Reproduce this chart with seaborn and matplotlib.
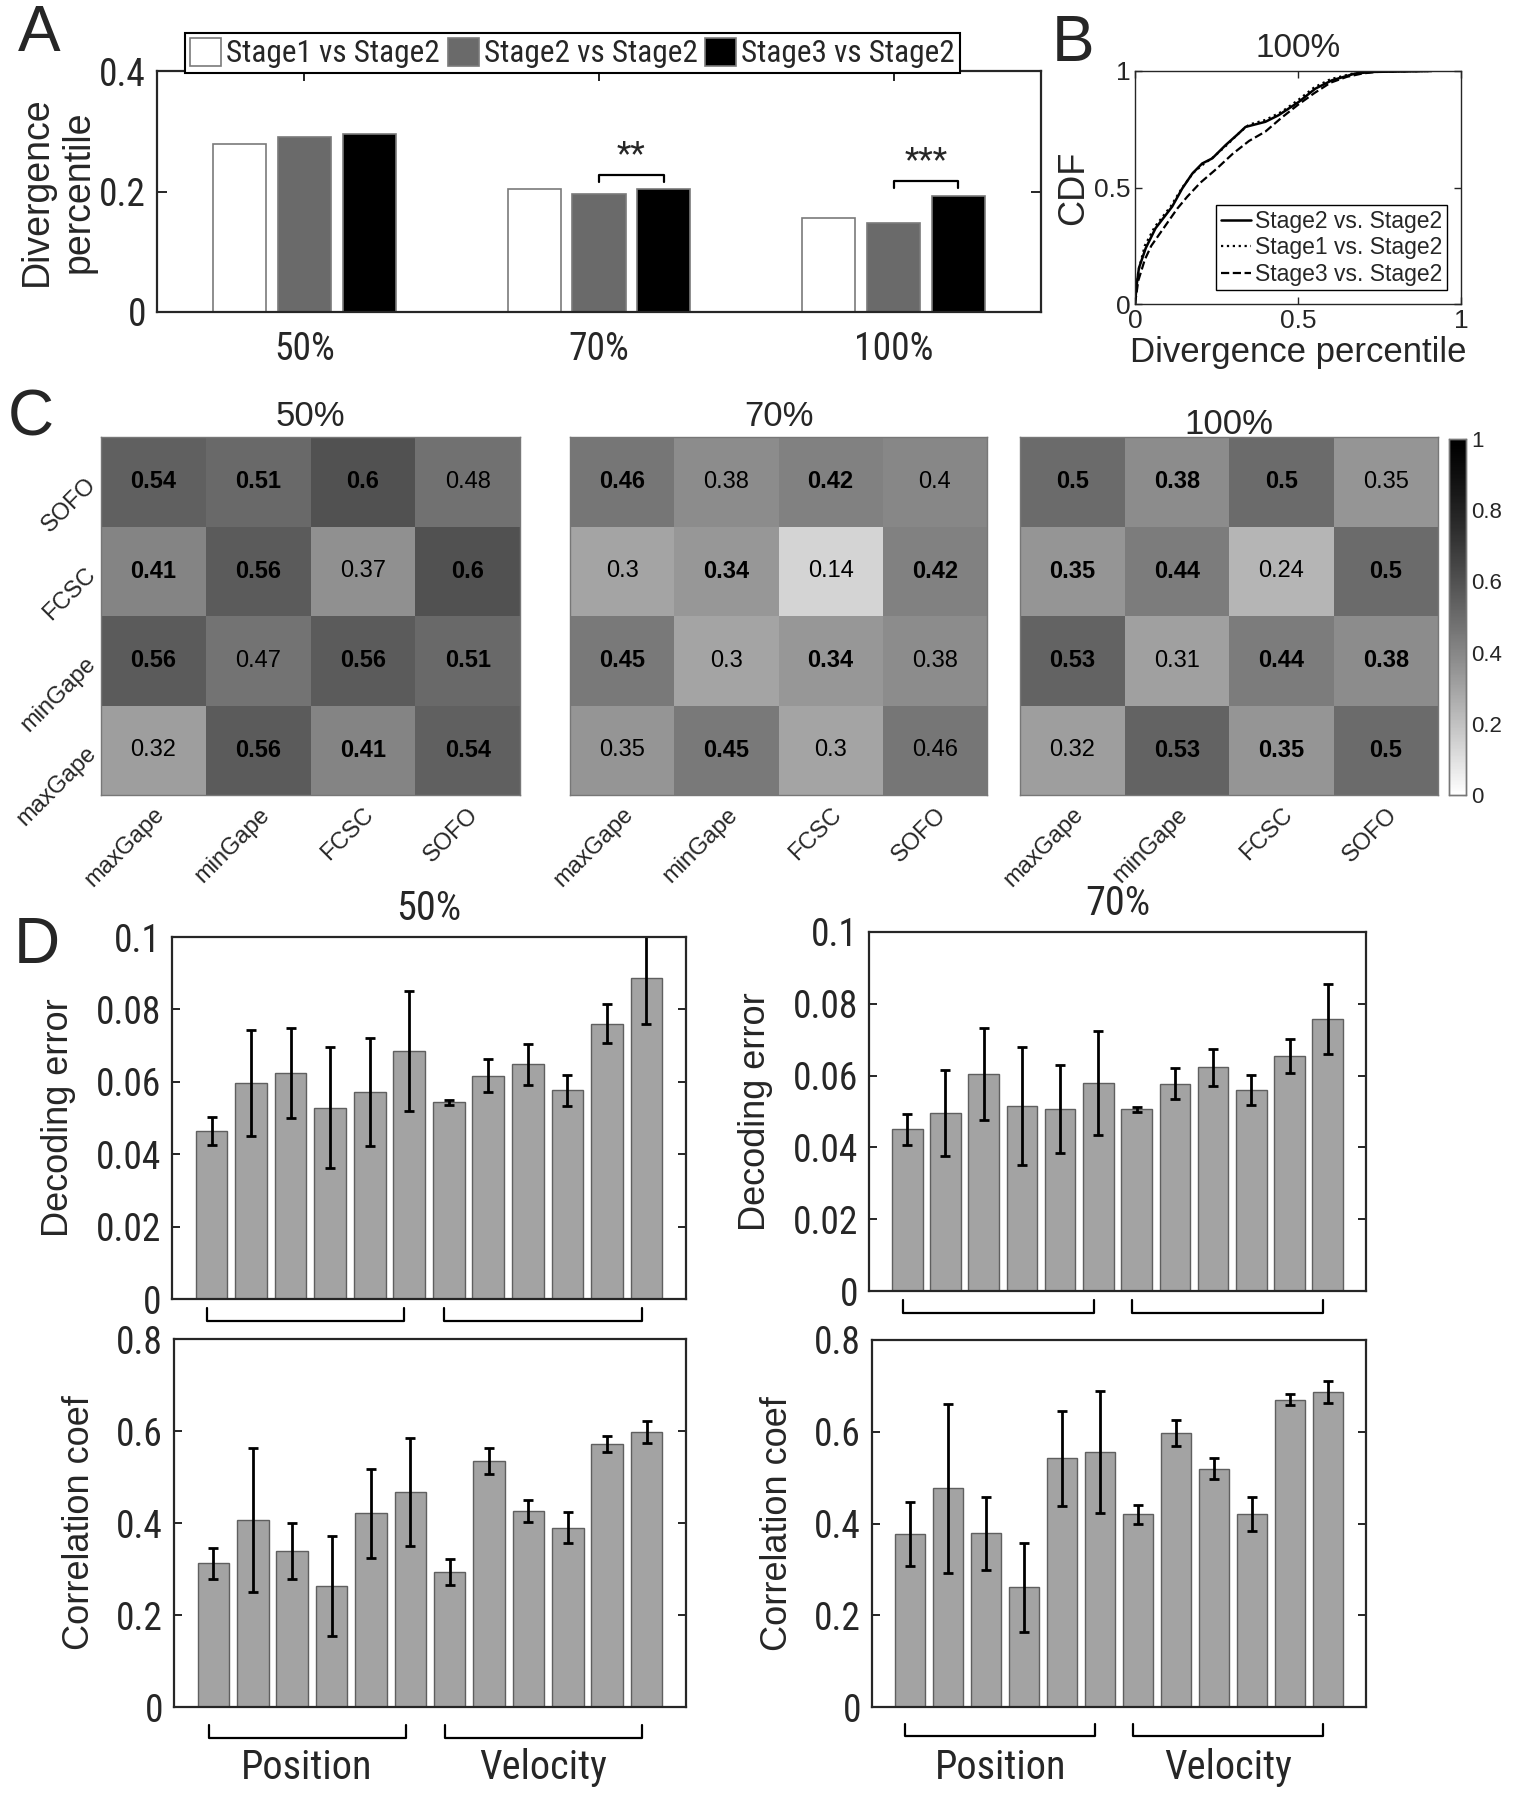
import matplotlib
matplotlib.use("Agg")
import matplotlib.pyplot as plt
from matplotlib import font_manager
from matplotlib.colors import ListedColormap
import numpy as np
import pandas as pd
import seaborn as sns

# ---------------- data ----------------
stage_labels = ["Stage1 vs Stage2", "Stage2 vs Stage2", "Stage3 vs Stage2"]
thresholds = ["50%", "70%", "100%"]
div_stage1 = [0.279, 0.204, 0.156]
div_stage2 = [0.291, 0.196, 0.148]
div_stage3 = [0.295, 0.204, 0.193]
sig_marks = ["", "**", "***"]

# CDF of divergence percentile (100%)
cdf_s2_x = [0, 0.005, 0.012, 0.033, 0.063, 0.114, 0.145, 0.176, 0.206, 0.237, 0.278,
            0.318, 0.339, 0.40, 0.44, 0.502, 0.553, 0.604, 0.675, 0.727, 0.91]
cdf_s2_y = [0, 0.08, 0.154, 0.24, 0.325, 0.418, 0.496, 0.56, 0.603, 0.625, 0.682,
            0.732, 0.76, 0.782, 0.81, 0.867, 0.924, 0.96, 0.989, 0.996, 1.0]
cdf_s1_x = [0, 0.005, 0.01, 0.03, 0.06, 0.11, 0.145, 0.18, 0.21, 0.24, 0.28,
            0.32, 0.35, 0.40, 0.45, 0.50, 0.55, 0.60, 0.67, 0.73, 0.90]
cdf_s1_y = [0, 0.07, 0.14, 0.25, 0.33, 0.42, 0.50, 0.565, 0.60, 0.63, 0.68,
            0.735, 0.77, 0.79, 0.825, 0.875, 0.93, 0.965, 0.99, 0.997, 1.0]
cdf_s3_x = [0, 0.01, 0.03, 0.05, 0.08, 0.10, 0.13, 0.16, 0.20, 0.25, 0.30,
            0.35, 0.40, 0.45, 0.50, 0.55, 0.60, 0.65, 0.70, 0.75, 0.90]
cdf_s3_y = [0, 0.10, 0.19, 0.25, 0.31, 0.35, 0.41, 0.46, 0.52, 0.58, 0.645,
            0.70, 0.74, 0.80, 0.855, 0.905, 0.95, 0.975, 0.99, 0.997, 1.0]

# behaviour overlap matrices (rows top->bottom, cols left->right)
behav_cols = ["maxGape", "minGape", "FCSC", "SOFO"]
behav_rows = ["SOFO", "FCSC", "minGape", "maxGape"]
overlap_50 = [[0.54, 0.51, 0.60, 0.48],
              [0.41, 0.56, 0.37, 0.60],
              [0.56, 0.47, 0.56, 0.51],
              [0.32, 0.56, 0.41, 0.54]]
bold_50 = [[1, 1, 1, 0], [1, 1, 0, 1], [1, 0, 1, 1], [0, 1, 1, 1]]
overlap_70 = [[0.46, 0.38, 0.42, 0.40],
              [0.30, 0.34, 0.14, 0.42],
              [0.45, 0.30, 0.34, 0.38],
              [0.35, 0.45, 0.30, 0.46]]
bold_70 = [[1, 0, 1, 0], [0, 1, 0, 1], [1, 0, 1, 0], [0, 1, 0, 0]]
overlap_100 = [[0.50, 0.38, 0.50, 0.35],
               [0.35, 0.44, 0.24, 0.50],
               [0.53, 0.31, 0.44, 0.38],
               [0.32, 0.53, 0.35, 0.50]]
bold_100 = [[1, 1, 1, 0], [1, 1, 0, 1], [1, 0, 1, 1], [0, 1, 1, 1]]

# decoding, 12 models: 6 position + 6 velocity
dec_err_50 = [0.0464, 0.0596, 0.0624, 0.0528, 0.0573, 0.0684,
              0.0544, 0.0617, 0.0648, 0.0576, 0.0761, 0.0886]
dec_err_50_sd = [0.0038, 0.0147, 0.0124, 0.0167, 0.0149, 0.0166,
                 0.0007, 0.0046, 0.0057, 0.0043, 0.0053, 0.0127]
dec_err_70 = [0.0450, 0.0496, 0.0605, 0.0516, 0.0507, 0.0580,
              0.0506, 0.0577, 0.0623, 0.0560, 0.0654, 0.0757]
dec_err_70_sd = [0.0044, 0.0120, 0.0128, 0.0165, 0.0123, 0.0145,
                 0.0007, 0.0043, 0.0051, 0.0043, 0.0047, 0.0097]
corr_50 = [0.3125, 0.406, 0.339, 0.2625, 0.421, 0.4676,
           0.294, 0.535, 0.426, 0.390, 0.572, 0.5985]
corr_50_sd = [0.034, 0.157, 0.060, 0.109, 0.097, 0.117,
              0.028, 0.028, 0.024, 0.033, 0.017, 0.024]
corr_70 = [0.377, 0.477, 0.3785, 0.2615, 0.542, 0.5555,
           0.420, 0.597, 0.519, 0.420, 0.670, 0.687]
corr_70_sd = [0.069, 0.184, 0.079, 0.097, 0.103, 0.133,
              0.020, 0.028, 0.023, 0.037, 0.012, 0.024]
group_names = ["Position", "Velocity"]
group_size = 6

# ---------------- style ----------------
sns.set_theme(style="ticks")
avail = {f.name for f in font_manager.fontManager.ttflist}
BASE = "Liberation Sans" if "Liberation Sans" in avail else "DejaVu Sans"
plt.rcParams["font.family"] = [BASE, "DejaVu Sans"]
plt.rcParams["axes.linewidth"] = 1.6
plt.rcParams["xtick.direction"] = "in"
plt.rcParams["ytick.direction"] = "in"

# condensed sans face for the MATLAB-style narrow labels
narrow_path = None
for pref in ["Liberation Sans Narrow", "Roboto Condensed", "DejaVu Sans", "Open Sans Condensed"]:
    for f in font_manager.fontManager.ttflist:
        if (f.name == pref and f.style == "normal" and f.weight in (400, "normal")
                and ("ondensed" in str(f.stretch) or "Narrow" in f.name or "Condensed" in f.fname)):
            narrow_path = f.fname
            break
    if narrow_path:
        break
nscale = 1.0 if narrow_path else 0.85


def nfont(size):
    if narrow_path:
        return font_manager.FontProperties(fname=narrow_path, size=size)
    return font_manager.FontProperties(family=BASE, size=size * nscale)


# white -> black, darkening a little faster than linear (as in the source figure)
lv = np.linspace(0, 1, 256)
gray_cmap = ListedColormap(np.stack([(1 - lv) ** 1.25] * 3, axis=1), name="matgray")

W, H = 1514, 1800
fig = plt.figure(figsize=(W / 100, H / 100), dpi=100)


def add_ax(l, t, r, b):
    return fig.add_axes([l / W, 1 - b / H, (r - l) / W, (b - t) / H])


def narrow_ticks(ax, size):
    for lab in ax.get_xticklabels() + ax.get_yticklabels():
        lab.set_fontproperties(nfont(size))


# ---------------- A ----------------
axA = add_ax(157, 71, 1041, 312)
dfA = pd.DataFrame({
    "threshold": thresholds * 3,
    "stage": [s for s in stage_labels for _ in thresholds],
    "value": div_stage1 + div_stage2 + div_stage3,
})
sns.barplot(data=dfA, x="threshold", y="value", hue="stage", ax=axA,
            palette=["white", "#6a6a6a", "black"], width=0.66, gap=0.18,
            edgecolor="#7a7a7a", linewidth=1.2, saturation=1, errorbar=None)
axA.set_xlim(-0.5, 2.5)
axA.set_ylim(0, 0.4)
axA.set_yticks([0, 0.2, 0.4], ["0", "0.2", "0.4"])
axA.set_xlabel("")
axA.set_ylabel("Divergence\npercentile", fontsize=27, linespacing=1.2, labelpad=2)
axA.tick_params(axis="both", length=7, width=1.4, top=True, right=True, pad=8)
axA.tick_params(axis="x", pad=14)
narrow_ticks(axA, 27)
off = 0.22
for i, mark in enumerate(sig_marks):
    if not mark:
        continue
    top = max(div_stage2[i], div_stage3[i])
    yb = top + 0.024
    axA.plot([i, i, i + off, i + off], [yb - 0.012, yb, yb, yb - 0.012], color="black", lw=1.6)
    axA.text(i + off / 2, yb + 0.006, mark, ha="center", va="bottom", fontproperties=nfont(24))
hA, lA = axA.get_legend_handles_labels()
axA.legend(hA, lA, loc="center", bbox_to_anchor=(0.47, 1.075), ncol=3,
           prop=nfont(22.5), frameon=True, fancybox=False, edgecolor="black", framealpha=1,
           handlelength=1.0, handleheight=1.0, handletextpad=0.15,
           columnspacing=0.25, borderpad=0.15, borderaxespad=0)
axA.get_legend().get_frame().set_linewidth(1.5)

# ---------------- B ----------------
axB = add_ax(1135, 71, 1461, 304)
sns.lineplot(x=cdf_s2_x, y=cdf_s2_y, ax=axB, color="black", lw=1.8, linestyle="-",
             estimator=None, sort=False, label="Stage2 vs. Stage2")
sns.lineplot(x=cdf_s1_x, y=cdf_s1_y, ax=axB, color="black", lw=1.6, linestyle=":",
             estimator=None, sort=False, label="Stage1 vs. Stage2")
sns.lineplot(x=cdf_s3_x, y=cdf_s3_y, ax=axB, color="black", lw=1.6, linestyle="--",
             estimator=None, sort=False, label="Stage3 vs. Stage2")
axB.set_xlim(0, 1)
axB.set_ylim(0, 1)
axB.set_xticks([0, 0.5, 1], ["0", "0.5", "1"])
axB.set_yticks([0, 0.5, 1], ["0", "0.5", "1"])
axB.tick_params(axis="both", labelsize=19, length=5, width=1.0, top=True, right=True)
axB.set_title("100%", fontsize=24, pad=10)
axB.set_xlabel("Divergence percentile", fontsize=25, labelpad=2)
axB.set_ylabel("CDF", fontsize=26, labelpad=2)
legB = axB.legend(loc="lower right", fontsize=16.5, frameon=True, fancybox=False,
                  edgecolor="black", framealpha=1, handlelength=1.3, handletextpad=0.2,
                  borderpad=0.2, labelspacing=0.15, borderaxespad=0.6)
legB.get_frame().set_linewidth(1.0)
for sp in axB.spines.values():
    sp.set_linewidth(1.0)

# ---------------- C ----------------
heat_boxes = [(101, 437, 520, 795), (570, 437, 987, 795), (1020, 437, 1438, 795)]
heat_data = [(overlap_50, bold_50, "50%"), (overlap_70, bold_70, "70%"), (overlap_100, bold_100, "100%")]
cax = add_ax(1449, 439, 1466, 795)
for k, ((l, t, r, b), (mat, bold, title)) in enumerate(zip(heat_boxes, heat_data)):
    ax = add_ax(l, t, r, b)
    df = pd.DataFrame(mat, index=behav_rows, columns=behav_cols)
    sns.heatmap(df, ax=ax, cmap=gray_cmap, vmin=0, vmax=1, annot=True, fmt="g",
                annot_kws={"fontsize": 17, "color": "black"},
                cbar=(k == 2), cbar_ax=cax if k == 2 else None)
    flat_bold = [v for row in bold for v in row]
    for txt, bb in zip(ax.texts, flat_bold):
        txt.set_fontweight("bold" if bb else "normal")
    ax.set_title(title, fontsize=25, pad=8 if k < 2 else 2)
    ax.set_xlabel("")
    ax.set_ylabel("")
    ax.set_xticklabels(behav_cols, rotation=45, ha="right", rotation_mode="anchor", fontsize=17)
    if k == 0:
        ax.set_yticklabels(behav_rows, rotation=45, ha="right", va="center",
                           rotation_mode="anchor", fontsize=17)
    else:
        ax.set_yticklabels([])
    ax.tick_params(axis="both", length=4, width=0.8, color="#777777", top=True, right=True,
                   labeltop=False, labelright=False, pad=6)
    for sp in ax.spines.values():
        sp.set_visible(True)
        sp.set_color("#777777")
        sp.set_linewidth(1.0)
cax.set_yticks([0, 0.2, 0.4, 0.6, 0.8, 1], ["0", "0.2", "0.4", "0.6", "0.8", "1"])
cax.tick_params(labelsize=16, length=3, width=0.8, color="#777777")
for sp in cax.spines.values():
    sp.set_visible(True)
    sp.set_color("#777777")
    sp.set_linewidth(1.0)

# ---------------- D ----------------
d_boxes = [(172, 937, 686, 1299), (869, 932, 1366, 1291),
           (174, 1339, 686, 1707), (872, 1340, 1366, 1707)]
d_data = [(dec_err_50, dec_err_50_sd, "Decoding error", [0, 0.1], "50%", -0.06),
          (dec_err_70, dec_err_70_sd, "Decoding error", [0, 0.1], "70%", -0.06),
          (corr_50, corr_50_sd, "Correlation coef", [0, 0.8], None, -0.085),
          (corr_70, corr_70_sd, "Correlation coef", [0, 0.8], None, -0.08)]
for k, (box, (vals, sds, ylab, ylim, title, brk_y)) in enumerate(zip(d_boxes, d_data)):
    ax = add_ax(*box)
    idx = list(range(len(vals)))
    sns.barplot(x=idx, y=vals, ax=ax, color="#a3a3a3", edgecolor="#5f5f5f",
                linewidth=1.0, width=0.8, saturation=1, errorbar=None, native_scale=True)
    ax.errorbar(idx, vals, yerr=sds, fmt="none", ecolor="black", elinewidth=2.0,
                capsize=3.5, capthick=2.0, clip_on=True)
    ax.set_xlim(-1, len(vals))
    ax.set_ylim(*ylim)
    if ylim[1] < 0.5:
        ax.set_yticks([0, 0.02, 0.04, 0.06, 0.08, 0.1], ["0", "0.02", "0.04", "0.06", "0.08", "0.1"])
    else:
        ax.set_yticks([0, 0.2, 0.4, 0.6, 0.8], ["0", "0.2", "0.4", "0.6", "0.8"])
    ax.set_xticks([])
    ax.tick_params(axis="y", length=6, width=1.4, right=True, pad=8)
    narrow_ticks(ax, 27)
    ax.set_ylabel(ylab, fontsize=26, labelpad=14)
    if title:
        ax.set_title(title, fontproperties=nfont(29), pad=12)
    trans = ax.get_xaxis_transform()
    for g, gname in enumerate(group_names):
        x0 = g * group_size - 0.12
        x1 = x0 + group_size - 1
        ax.plot([x0, x0, x1, x1], [brk_y + 0.035, brk_y, brk_y, brk_y + 0.035],
                transform=trans, color="black", lw=1.6, clip_on=False)
        if k >= 2:
            ax.text((x0 + x1) / 2, -0.165, gname, transform=trans, ha="center", va="center",
                    fontproperties=nfont(29))

# ---------------- panel letters ----------------
for letter, (x, y) in {"A": (18, 4), "B": (1052, 14), "C": (8, 388), "D": (14, 916)}.items():
    fig.text(x / W, 1 - y / H, letter, fontsize=46, ha="left", va="top")

fig.savefig("out.png", dpi=100)
